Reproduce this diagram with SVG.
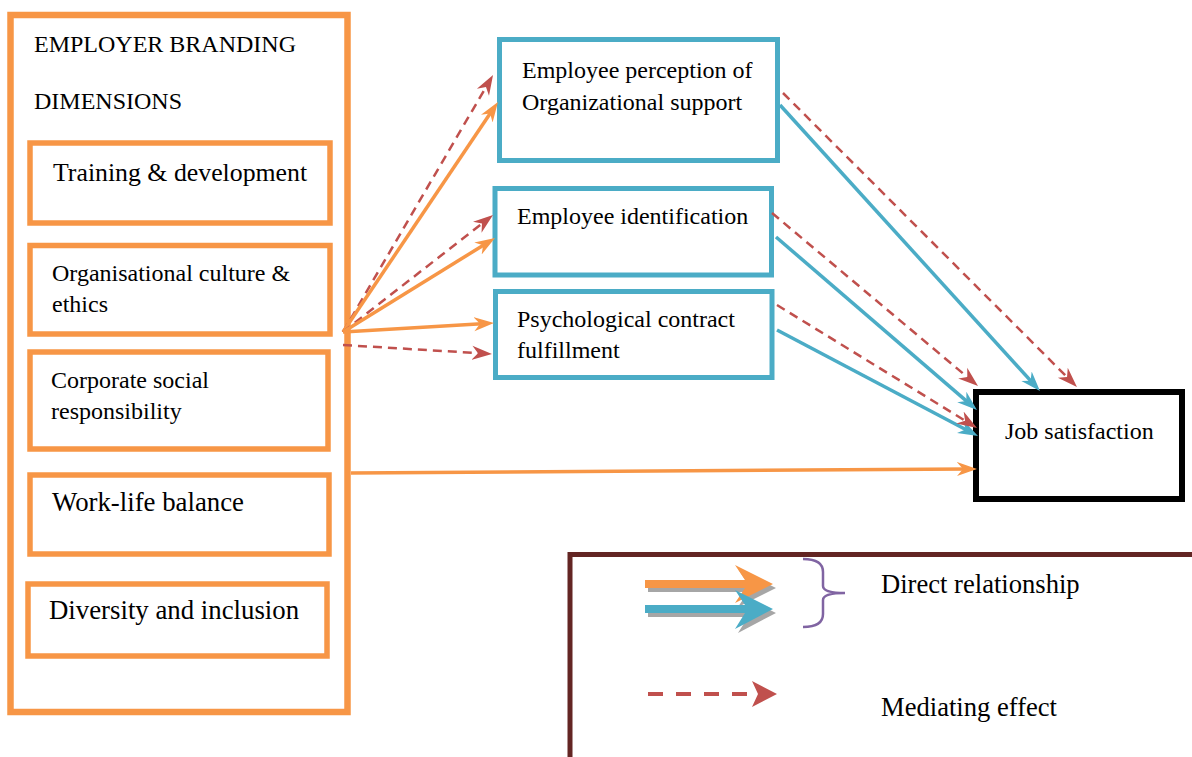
<svg xmlns="http://www.w3.org/2000/svg" width="1192" height="757" viewBox="0 0 1192 757">
<style>
text{font-family:"Liberation Serif","Times New Roman",serif;fill:#000}
.ob{fill:#fff;stroke:#F79646}
.bb{fill:#fff;stroke:#4BACC6;stroke-width:5}
.o{stroke:#F79646;stroke-width:3.5;fill:none}
.b{stroke:#4BACC6;stroke-width:3.5;fill:none}
.r{stroke:#C0504D;stroke-width:2.5;fill:none;stroke-dasharray:9 6}
</style>
<defs>
<marker id="mo" viewBox="0 0 20 16" refX="12" refY="8" markerWidth="20" markerHeight="16" markerUnits="userSpaceOnUse" orient="auto"><path d="M0,1 L20,8 L0,15 L6,8 z" fill="#F79646"/></marker>
<marker id="mb" viewBox="0 0 20 16" refX="12" refY="8" markerWidth="20" markerHeight="16" markerUnits="userSpaceOnUse" orient="auto"><path d="M0,1 L20,8 L0,15 L6,8 z" fill="#4BACC6"/></marker>
<marker id="mr" viewBox="0 0 20 16" refX="12" refY="8" markerWidth="20" markerHeight="16" markerUnits="userSpaceOnUse" orient="auto"><path d="M0,1 L20,8 L0,15 L6,8 z" fill="#C0504D"/></marker>
</defs>
<rect width="1192" height="757" fill="#fff"/>

<g id="employer-branding">
<rect class="ob" x="10.5" y="15" width="337" height="697" stroke-width="6.5"/>
<text x="34" y="52" font-size="24">EMPLOYER BRANDING</text>
<text x="34" y="109" font-size="24">DIMENSIONS</text>
</g>
<g id="training">
<rect class="ob" x="30" y="143" width="300" height="80" stroke-width="5.5"/>
<text x="53" y="181" font-size="25.8">Training &amp; development</text>
</g>
<g id="culture">
<rect class="ob" x="30" y="245.5" width="300" height="88.5" stroke-width="5.5"/>
<text x="52" y="281" font-size="24">Organisational culture &amp;</text>
<text x="52" y="312" font-size="24">ethics</text>
</g>
<g id="csr">
<rect class="ob" x="30" y="352" width="298" height="97" stroke-width="5.5"/>
<text x="51" y="388" font-size="24">Corporate social</text>
<text x="51" y="419" font-size="24">responsibility</text>
</g>
<g id="worklife">
<rect class="ob" x="30" y="475" width="299" height="79" stroke-width="5.5"/>
<text x="52" y="511" font-size="26.8">Work-life balance</text>
</g>
<g id="diversity">
<rect class="ob" x="28" y="584" width="299" height="72" stroke-width="5.5"/>
<text x="49" y="619" font-size="26.8">Diversity and inclusion</text>
</g>

<g id="perception">
<rect class="bb" x="499.5" y="39.5" width="278" height="121"/>
<text x="522" y="78" font-size="24">Employee perception of</text>
<text x="522" y="110" font-size="24">Organizational support</text>
</g>
<g id="identification">
<rect class="bb" x="495" y="188.5" width="276.5" height="86.5"/>
<text x="517" y="224" font-size="24">Employee identification</text>
</g>
<g id="contract">
<rect class="bb" x="495.5" y="291.5" width="276.5" height="86"/>
<text x="517" y="327" font-size="24">Psychological contract</text>
<text x="517" y="358" font-size="24">fulfillment</text>
</g>
<g id="job-satisfaction">
<rect x="976" y="392" width="206" height="107" fill="#fff" stroke="#000" stroke-width="6"/>
<text x="1005" y="439" font-size="24">Job satisfaction</text>
</g>

<g id="connectors">
<line class="r" x1="343" y1="332" x2="489" y2="81.9" marker-end="url(#mr)"/>
<line class="o" x1="343" y1="332" x2="493.5" y2="108.6" marker-end="url(#mo)"/>
<line class="r" x1="343" y1="332" x2="486.7" y2="219.9" marker-end="url(#mr)"/>
<line class="o" x1="343" y1="332" x2="488.2" y2="242.2" marker-end="url(#mo)"/>
<line class="o" x1="343" y1="332" x2="486" y2="323.5" marker-end="url(#mo)"/>
<line class="r" x1="343" y1="345" x2="484" y2="353.5" marker-end="url(#mr)"/>
<line class="o" x1="351" y1="473" x2="969" y2="469" stroke-width="3" marker-end="url(#mo)"/>
<line class="b" x1="780" y1="105" x2="1034.6" y2="385.1" marker-end="url(#mb)"/>
<line class="r" x1="783" y1="93" x2="1071.3" y2="381.3" marker-end="url(#mr)"/>
<line class="b" x1="776" y1="237" x2="970.9" y2="404.8" marker-end="url(#mb)"/>
<line class="r" x1="772" y1="213" x2="971.9" y2="380.9" marker-end="url(#mr)"/>
<line class="b" x1="777" y1="330" x2="970.9" y2="432.3" marker-end="url(#mb)"/>
<line class="r" x1="777" y1="305" x2="970.2" y2="423.8" marker-end="url(#mr)"/>
</g>

<g id="legend">
<path d="M570,757 L570,554.5 L1192,554.5" fill="none" stroke="#632523" stroke-width="5"/>
<polygon points="648,584 748,584 738,569 776,588 738,607 748,592 648,592" fill="#A6A6A6"/>
<polygon points="645,580 745,580 735,565 773,584 735,603 745,588 645,588" fill="#F79646"/>
<polygon points="648,609 748,609 738,594 776,613 738,633 748,617 648,617" fill="#A6A6A6"/>
<polygon points="645,605 745,605 735,590 773,609 735,629 745,613 645,613" fill="#4BACC6"/>
<path d="M803,559 Q823,559 823,572 L823,586 Q823,593 845,593 Q823,593 823,600 L823,614 Q823,627 803,627" fill="none" stroke="#8064A2" stroke-width="2.5"/>
<text x="881" y="593" font-size="26.6">Direct relationship</text>
<line x1="648" y1="694" x2="750" y2="694" stroke="#C0504D" stroke-width="4" stroke-dasharray="15 13"/>
<polygon points="752,681 777,694 752,707 758,694" fill="#C0504D"/>
<text x="881" y="716" font-size="26.6">Mediating effect</text>
</g>
</svg>
